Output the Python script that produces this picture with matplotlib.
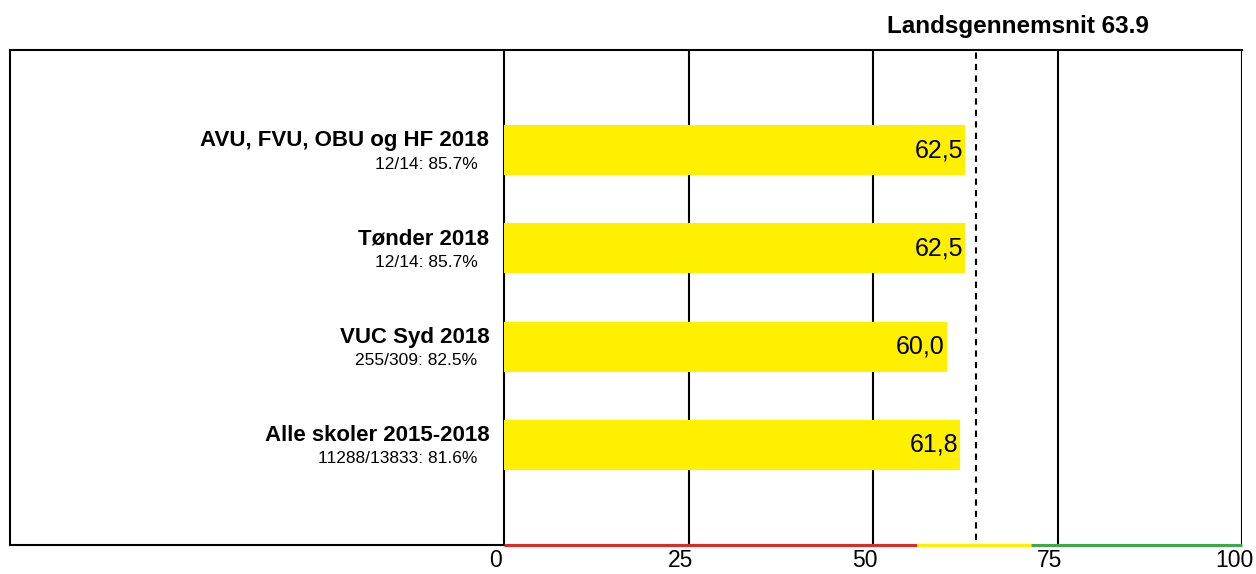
import matplotlib
matplotlib.use("Agg")
import matplotlib.pyplot as plt
import matplotlib.transforms as mtransforms

categories = ["AVU, FVU, OBU og HF 2018", "Tønder 2018", "VUC Syd 2018", "Alle skoler 2015-2018"]
subtitles = ["12/14: 85.7%", "12/14: 85.7%", "255/309: 82.5%", "11288/13833: 81.6%"]
values = [62.5, 62.5, 60.0, 61.8]
national_avg = 63.9
ticks = [0, 25, 50, 75, 100]
band_edges = [0, 56, 71.4, 100]
band_colors = ["#DC2A2A", "#FFF000", "#3DAA4A"]

plt.rcParams['font.family'] = ['Liberation Sans', 'DejaVu Sans']

W, H = 1256, 574
fig = plt.figure(figsize=(W / 100, H / 100), dpi=100)
ax = fig.add_axes([10 / W, (H - 545) / H, (1242 - 10) / W, (545 - 50) / H])

xmin = -(504 - 10) / 7.38
ax.set_xlim(xmin, 100)
ax.set_ylim(len(values) - 1 + 1.02, -1.02)

ypos = list(range(len(values)))
ax.barh(ypos, values, height=0.51, color="#FFF000", zorder=2)

for t in ticks:
    ax.axvline(t, color="black", lw=1.5, zorder=1)
ax.axvline(national_avg, ymin=0.01, ymax=1, color="black", lw=1.5,
           linestyle=(0, (3.0, 2.5)), zorder=3)

for s in ["right", "bottom"]:
    ax.spines[s].set_visible(False)
for s in ["left", "top"]:
    ax.spines[s].set_linewidth(1.5)

ybot = ax.get_ylim()[0]
ax.plot([xmin, 0], [ybot, ybot], color="black", lw=1.5, clip_on=False, zorder=4,
        solid_capstyle="projecting")
for i in range(len(band_colors)):
    ax.plot([band_edges[i], band_edges[i + 1]], [ybot, ybot], color=band_colors[i],
            lw=2.2, clip_on=False, zorder=5, solid_capstyle="butt")

ax.set_yticks([])
ax.set_xticks(ticks)
ax.set_xticklabels([str(t) for t in ticks], fontsize=16.5, ha="center")
ax.tick_params(axis="x", length=0, pad=3)
offset = mtransforms.ScaledTranslation(-8 / 100, 0, fig.dpi_scale_trans)
for lab in ax.get_xticklabels():
    lab.set_transform(lab.get_transform() + offset)

for i, (c, s, v) in enumerate(zip(categories, subtitles, values)):
    ax.text(-2.0, i - 0.04, c, ha="right", va="baseline", fontsize=16, fontweight="bold")
    ax.text(-3.6, i + 0.19, s, ha="right", va="baseline", fontsize=12.5)
    ax.text(v - 0.25, i, f"{v:.1f}".replace(".", ","), ha="right", va="center",
            fontsize=18, zorder=4)

fig.text(1018 / W, (H - 26) / H, f"Landsgennemsnit {national_avg}", ha="center",
         va="center", fontsize=17.5, fontweight="bold")

fig.savefig("out.png", dpi=100)
